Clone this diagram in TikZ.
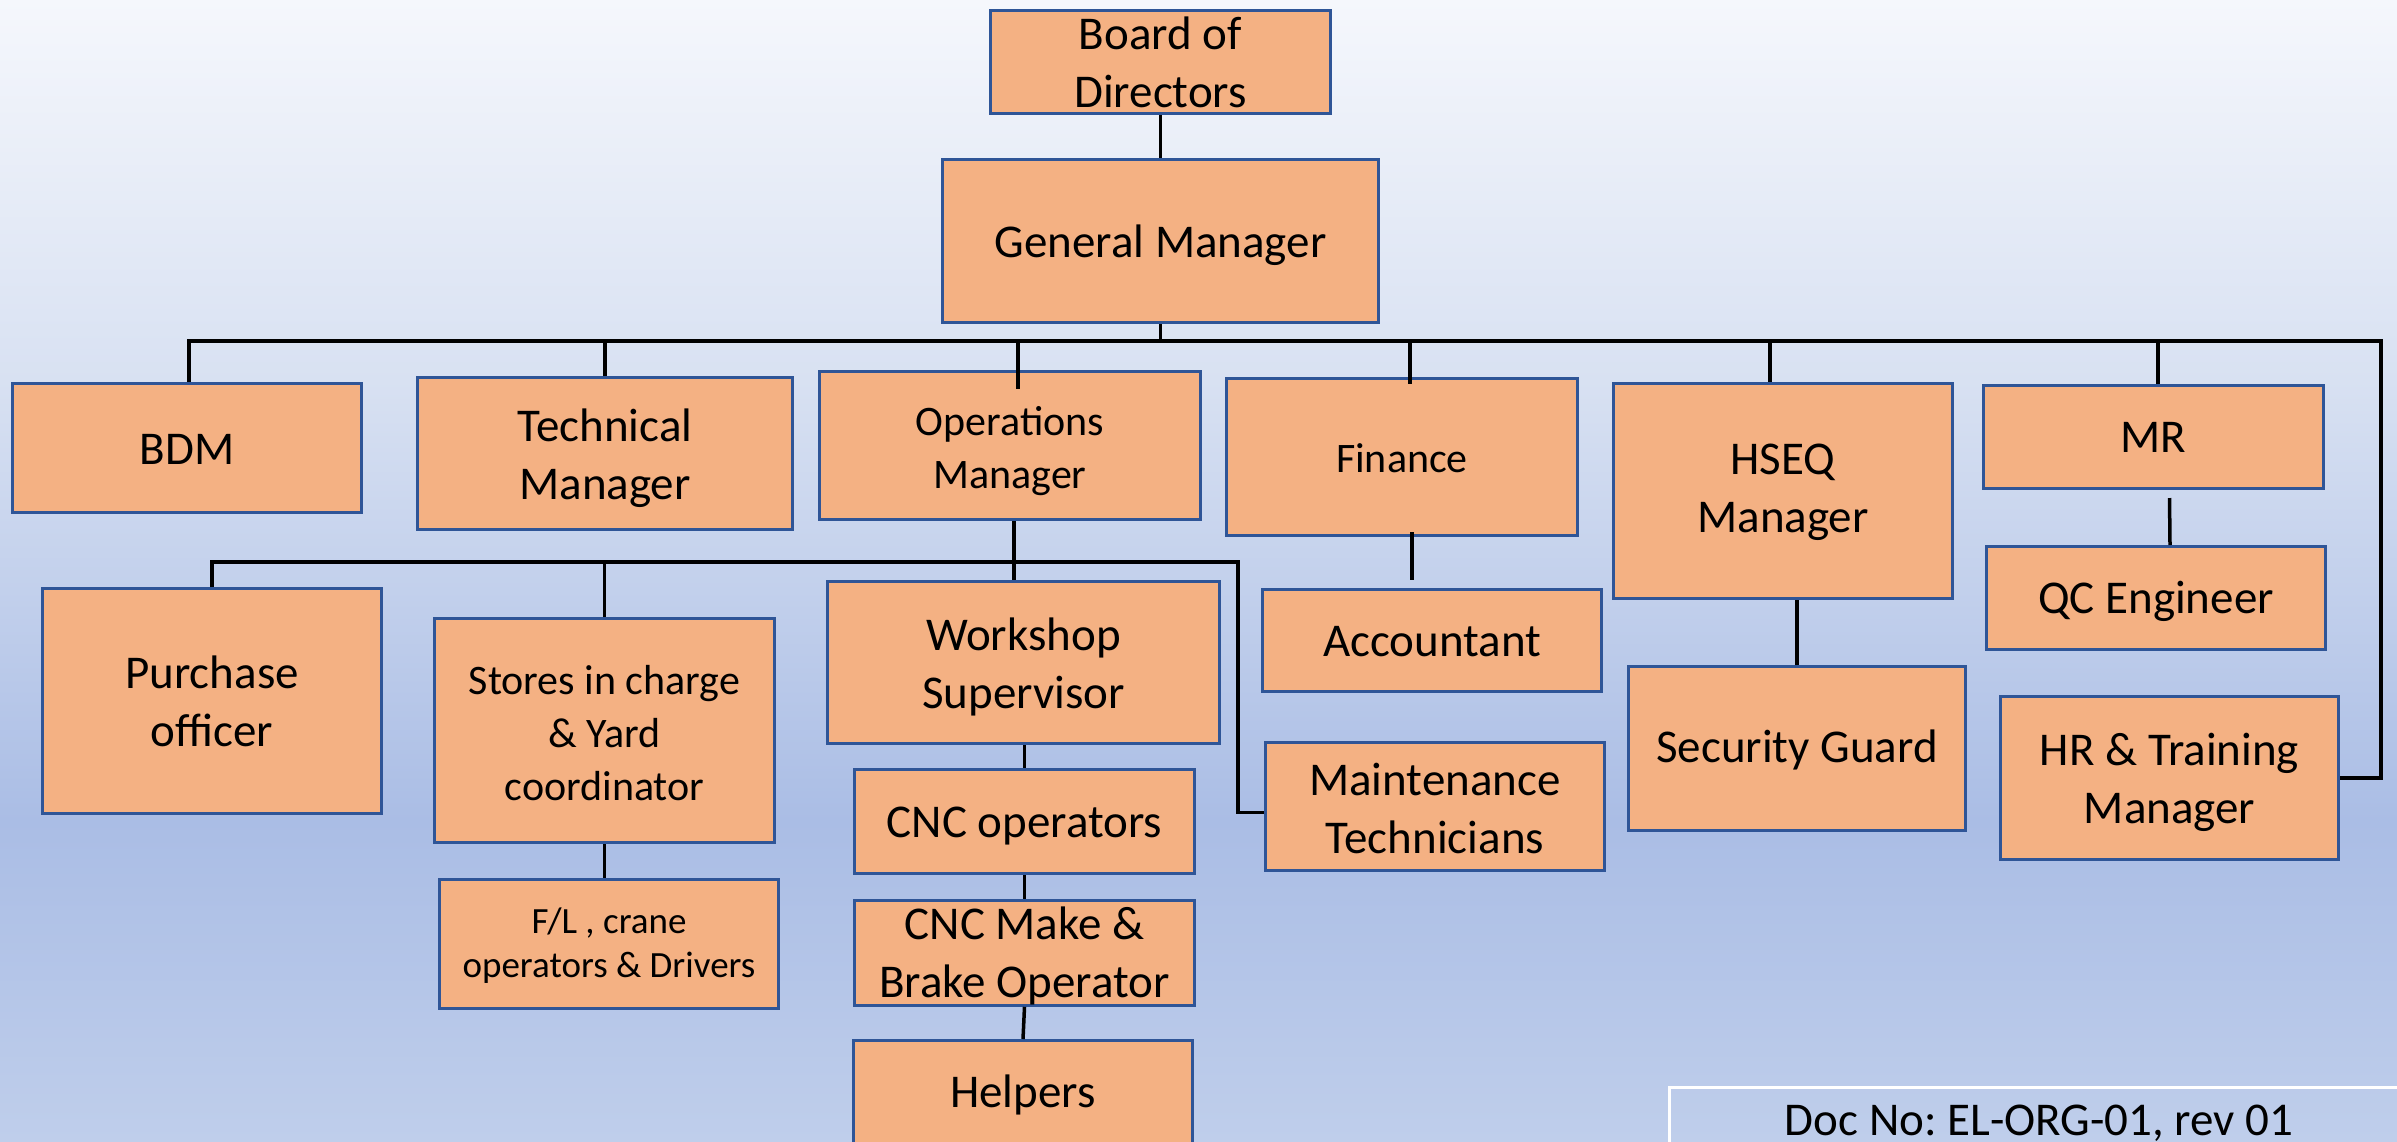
\documentclass[tikz,border=0pt]{standalone}
\usepackage{fontspec}
\setmainfont{Carlito}
\frenchspacing
\usetikzlibrary{calc}
\definecolor{boxfill}{HTML}{F4B183}
\definecolor{boxblue}{HTML}{2F5597}
\definecolor{bgA}{HTML}{F5F7FC}
\definecolor{bgB}{HTML}{D8E1F2}
\definecolor{bgC}{HTML}{AABDE5}
\definecolor{bgD}{HTML}{BFCEEB}
\tikzset{
  orgbox/.style={draw=boxblue, line width=3, fill=boxfill, inner sep=0pt, align=center, text=black},
  fA/.style={font=\fontsize{47}{58}\selectfont},
  fB/.style={font=\fontsize{42}{53}\selectfont},
  fC/.style={font=\fontsize{37}{44}\selectfont},
  sh/.style={execute at begin node={\rule{0pt}{#1pt}}},
  conn/.style={draw=black, line width=3.5},
}
\begin{document}
\begin{tikzpicture}[x=1pt,y=-1pt]
\useasboundingbox (0,0) rectangle (2397,1141);
\clip (0,0) rectangle (2397,1141);
% background
\shade[top color=bgA, bottom color=bgB] (0,0) rectangle (2397,381);
\shade[top color=bgB, bottom color=bgC] (0,380) rectangle (2397,821);
\shade[top color=bgC, bottom color=bgD] (0,820) rectangle (2397,1141);

% boxes
\node[orgbox,fA,minimum width=340,minimum height=103] (board) at (1160.5,62) {Board of\\Directors};
\node[orgbox,fA,sh=42,minimum width=436,minimum height=163] (gm) at (1160.5,241) {General Manager};
\node[orgbox,fA,sh=33,minimum width=349,minimum height=129] (bdm) at (187,448) {BDM};
\node[orgbox,fA,sh=100,minimum width=375,minimum height=152] (tech) at (605,453.5) {Technical\\Manager};
\node[orgbox,fB,sh=93,minimum width=381,minimum height=148] (ops) at (1010,445.5) {Operations\\Manager};
\node[orgbox,fB,sh=32,minimum width=351,minimum height=157] (fin) at (1402,457) {Finance};
\node[orgbox,fA,sh=91,minimum width=339,minimum height=215] (hseq) at (1783,491) {HSEQ\\Manager};
\node[orgbox,fA,minimum width=340,minimum height=103] (mr) at (2153.5,437) {MR};
\node[orgbox,fA,sh=39,minimum width=339,minimum height=103] (qc) at (2156,598) {QC Engineer};
\node[orgbox,fA,minimum width=339,minimum height=225] (purch) at (212,701) {Purchase\\officer};
\node[orgbox,fB,sh=141,minimum width=340,minimum height=224] (stores) at (604.5,730.5) {Stores in charge\\\& Yard\\coordinator};
\node[orgbox,fC,sh=73,minimum width=339,minimum height=129] (fl) at (609,944) {F/L , crane\\operators \& Drivers};
\node[orgbox,fA,sh=100,minimum width=392,minimum height=162] (ws) at (1023.5,662.5) {Workshop\\Supervisor};
\node[orgbox,fA,sh=40,minimum width=340,minimum height=104] (cnc) at (1024.5,821.5) {CNC operators};
\node[orgbox,fA,sh=97,minimum width=340,minimum height=103] (cncm) at (1024.5,953) {CNC Make \&\\Brake Operator};
\node[orgbox,fA,sh=39,minimum width=339,minimum height=103] (help) at (1023,1092) {Helpers};
\node[orgbox,fA,sh=33,minimum width=339,minimum height=102] (acct) at (1432,640.5) {Accountant};
\node[orgbox,fA,sh=94,minimum width=339,minimum height=128] (maint) at (1435,806.5) {Maintenance\\Technicians};
\node[orgbox,fA,sh=36,minimum width=337,minimum height=164] (sec) at (1797,748.5) {Security Guard};
\node[orgbox,fA,sh=100,minimum width=338,minimum height=163] (hr) at (2169.5,778) {HR \& Training\\Manager};

% document number box
\node[draw=white, line width=3, fill=none, minimum width=800, minimum height=100, anchor=north west, inner sep=0pt] (docbox) at (1668,1086) {};
\node[fA, sh=40, text=black] (doctext) at (2039,1118) {Doc No: EL-ORG-01, rev 01};

% connector coordinates
\coordinate (busR) at (2381,341);
\coordinate (opsR) at (1238,562);
\coordinate (dOps) at (1018,341);
\coordinate (dFin) at (1410,341);
\coordinate (dHseq) at (1770,341);
\coordinate (dMr) at (2158,341);
\coordinate (dBdm) at (189,341);
\coordinate (opsDown) at (1014,562);

% connectors
\draw[conn] (board.south) -- (gm.north);
\draw[conn] (gm.south) -- (gm.south |- busR);
\draw[conn] (dBdm |- bdm.north) -- (dBdm) -- (busR) |- (hr.east);
\draw[conn] (tech.north) -- (tech.north |- busR);
\draw[conn] (dOps) -- ($(dOps |- ops.north)+(0,19)$);
\draw[conn] (dFin) -- ($(dFin |- fin.north)+(0,7)$);
\draw[conn] (dHseq) -- (dHseq |- hseq.north);
\draw[conn] (dMr) -- (dMr |- mr.north);
\draw[conn] ($(mr.south)+(16,8)$) -- ($(qc.north)+(14,0)$);
\draw[conn] ($(fin.south)+(10,-5)$) -- ($(acct.north)+(-20,-8)$);
\draw[conn] (sec.north) -- (sec.north |- hseq.south);
\draw[conn] (opsDown |- ops.south) -- (opsDown) -- (opsDown |- ws.north);
\draw[conn] (purch.north) |- (opsR) |- ($(maint.west)+(0,6)$);
\draw[conn] (stores.north) -- (stores.north |- opsR);
\draw[conn] (stores.south) -- (stores.south |- fl.north);
\draw[conn] (cnc.north |- ws.south) -- (cnc.north);
\draw[conn] (cnc.south) -- (cncm.north);
\draw[conn] (cncm.south) -- (help.north);
\end{tikzpicture}
\end{document}
